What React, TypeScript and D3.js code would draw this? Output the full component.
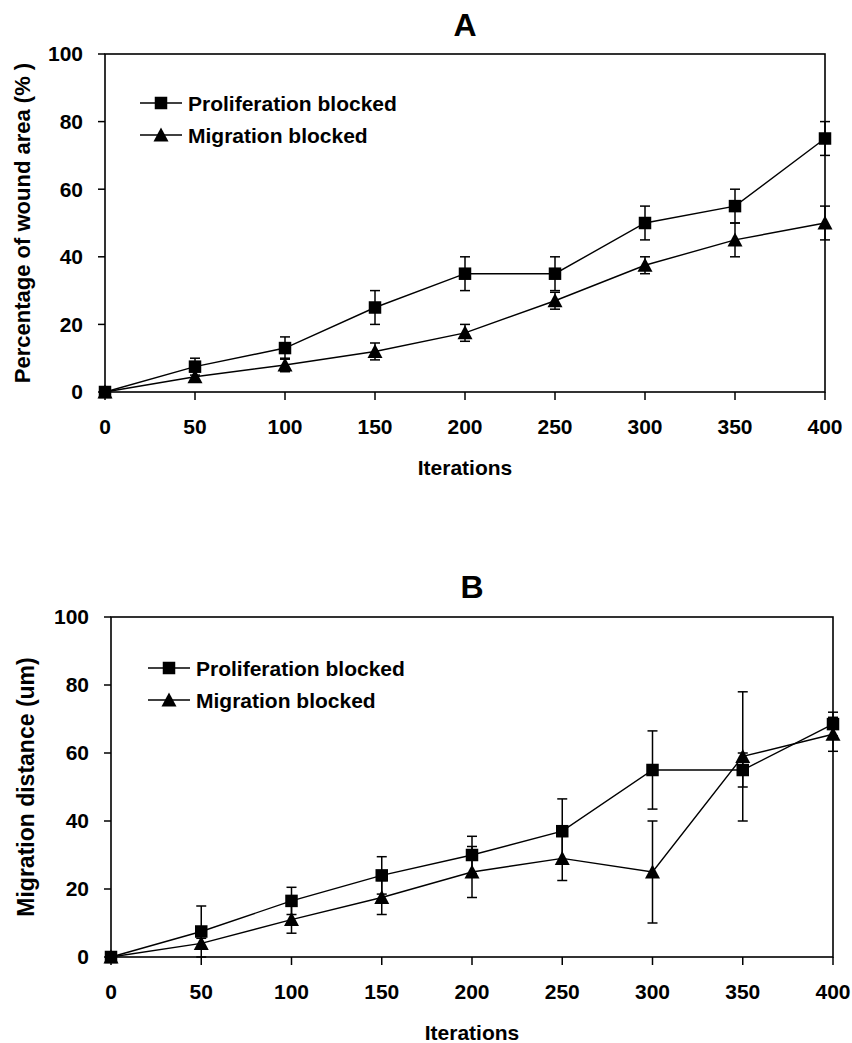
import React from "react";
import * as d3 from "d3";

const iterations = [0, 50, 100, 150, 200, 250, 300, 350, 400];
const xTicks = [0, 50, 100, 150, 200, 250, 300, 350, 400];
const yTicks = [0, 20, 40, 60, 80, 100];
const seriesNames = ["Proliferation blocked", "Migration blocked"];

// Panel A
const aProlif = [0, 7.5, 13, 25, 35, 35, 50, 55, 75];
const aProlifErr = [0, 2.5, 3.3, 5, 5, 5, 5, 5, 5];
const aMig = [0, 4.5, 8, 12, 17.5, 27, 37.5, 45, 50];
const aMigErr = [0, 1.5, 2, 2.5, 2.5, 2.5, 2.5, 5, 5];

// Panel B
const bProlif = [0, 7.5, 16.5, 24, 30, 37, 55, 55, 68.5];
const bProlifErr = [0, 7.5, 4, 5.5, 5.5, 9.5, 11.5, 5, 3.5];
const bMig = [0, 4, 11, 17.5, 25, 29, 25, 59, 65.5];
const bMigErr = [0, 1.5, 4, 5, 7.5, 6.5, 15, 19, 5];

const FONT = "'Liberation Sans', Arial, sans-serif";

type PanelProps = {
  title: string;
  yLabel: string;
  yLabelSize: number;
  prolif: number[];
  prolifErr: number[];
  mig: number[];
  migErr: number[];
  left: number;
  right: number;
  top: number;
  bottom: number;
  titleY: number;
  yLabelX: number;
  legendX: number;
  legendY: number;
};

function Square({ x, y, s }: { x: number; y: number; s: number }) {
  return <rect x={x - s / 2} y={y - s / 2} width={s} height={s} fill="#000" />;
}

function Triangle({ x, y, w, h }: { x: number; y: number; w: number; h: number }) {
  const p = `${x},${y - h / 2 - 1} ${x + w / 2},${y + h / 2} ${x - w / 2},${y + h / 2}`;
  return <polygon points={p} fill="#000" />;
}

function Panel(props: PanelProps) {
  const { left, right, top, bottom } = props;
  const x = d3.scaleLinear().domain([0, 400]).range([left, right]);
  const y = d3.scaleLinear().domain([0, 100]).range([bottom, top]);
  const line = d3
    .line<[number, number]>()
    .x((d) => x(d[0]))
    .y((d) => y(d[1]));
  const pPts = iterations.map((it, i) => [it, props.prolif[i]] as [number, number]);
  const mPts = iterations.map((it, i) => [it, props.mig[i]] as [number, number]);
  const cap = 5;

  const errBars = (vals: number[], errs: number[], key: string) =>
    iterations.map((it, i) =>
      errs[i] > 0 ? (
        <g key={key + i} stroke="#000" strokeWidth={1.5}>
          <line x1={x(it)} x2={x(it)} y1={y(vals[i] - errs[i])} y2={y(vals[i] + errs[i])} />
          <line x1={x(it) - cap} x2={x(it) + cap} y1={y(vals[i] + errs[i])} y2={y(vals[i] + errs[i])} />
          <line x1={x(it) - cap} x2={x(it) + cap} y1={y(vals[i] - errs[i])} y2={y(vals[i] - errs[i])} />
        </g>
      ) : null
    );

  return (
    <g fontFamily={FONT} fontWeight="bold" fill="#000">
      <text x={(left + right) / 2} y={props.titleY} fontSize={32} textAnchor="middle">
        {props.title}
      </text>
      <rect x={left} y={top} width={right - left} height={bottom - top} fill="none" stroke="#000" strokeWidth={1.6} />
      {yTicks.map((t) => (
        <g key={"y" + t}>
          <line x1={left - 7} x2={left} y1={y(t)} y2={y(t)} stroke="#000" strokeWidth={1.5} />
          <text x={left - 22} y={y(t)} dy="0.35em" fontSize={21} textAnchor="end">
            {t}
          </text>
        </g>
      ))}
      {xTicks.map((t) => (
        <g key={"x" + t}>
          <line x1={x(t)} x2={x(t)} y1={bottom} y2={bottom + 8} stroke="#000" strokeWidth={1.5} />
          <text x={x(t)} y={bottom + 35} dy="0.35em" fontSize={21} textAnchor="middle">
            {t}
          </text>
        </g>
      ))}
      <text x={(left + right) / 2} y={bottom + 76} dy="0.35em" fontSize={21} textAnchor="middle">
        Iterations
      </text>
      <text
        transform={`translate(${props.yLabelX},${(top + bottom) / 2}) rotate(-90)`}
        fontSize={props.yLabelSize}
        textAnchor="middle"
        dy="0.35em"
      >
        {props.yLabel}
      </text>
      {errBars(props.prolif, props.prolifErr, "pe")}
      {errBars(props.mig, props.migErr, "me")}
      <path d={line(pPts) || ""} fill="none" stroke="#000" strokeWidth={1.4} />
      <path d={line(mPts) || ""} fill="none" stroke="#000" strokeWidth={1.4} />
      {pPts.map((d, i) => (
        <Square key={"ps" + i} x={x(d[0])} y={y(d[1])} s={12.5} />
      ))}
      {mPts.map((d, i) => (
        <Triangle key={"mt" + i} x={x(d[0])} y={y(d[1])} w={15} h={13} />
      ))}
      <g>
        <line x1={props.legendX} x2={props.legendX + 42} y1={props.legendY} y2={props.legendY} stroke="#000" strokeWidth={1.5} />
        <Square x={props.legendX + 21} y={props.legendY} s={12.5} />
        <text x={props.legendX + 48} y={props.legendY} dy="0.36em" fontSize={21}>
          {seriesNames[0]}
        </text>
        <line x1={props.legendX} x2={props.legendX + 42} y1={props.legendY + 32} y2={props.legendY + 32} stroke="#000" strokeWidth={1.5} />
        <Triangle x={props.legendX + 21} y={props.legendY + 32} w={15} h={13} />
        <text x={props.legendX + 48} y={props.legendY + 32} dy="0.36em" fontSize={21}>
          {seriesNames[1]}
        </text>
      </g>
    </g>
  );
}

export default function App() {
  return (
    <svg width={852} height={1043} style={{ position: "absolute", left: 0, top: 0, background: "#fff" }}>
      <rect x={0} y={0} width={852} height={1043} fill="#fff" />
      <Panel
        title="A"
        yLabel="Percentage of wound area (% )"
        yLabelSize={22}
        prolif={aProlif}
        prolifErr={aProlifErr}
        mig={aMig}
        migErr={aMigErr}
        left={105}
        right={825}
        top={54}
        bottom={392}
        titleY={36}
        yLabelX={22}
        legendX={140}
        legendY={103}
      />
      <Panel
        title="B"
        yLabel="Migration distance (um)"
        yLabelSize={23}
        prolif={bProlif}
        prolifErr={bProlifErr}
        mig={bMig}
        migErr={bMigErr}
        left={111}
        right={833}
        top={617}
        bottom={957}
        titleY={598}
        yLabelX={26}
        legendX={148}
        legendY={668}
      />
    </svg>
  );
}
